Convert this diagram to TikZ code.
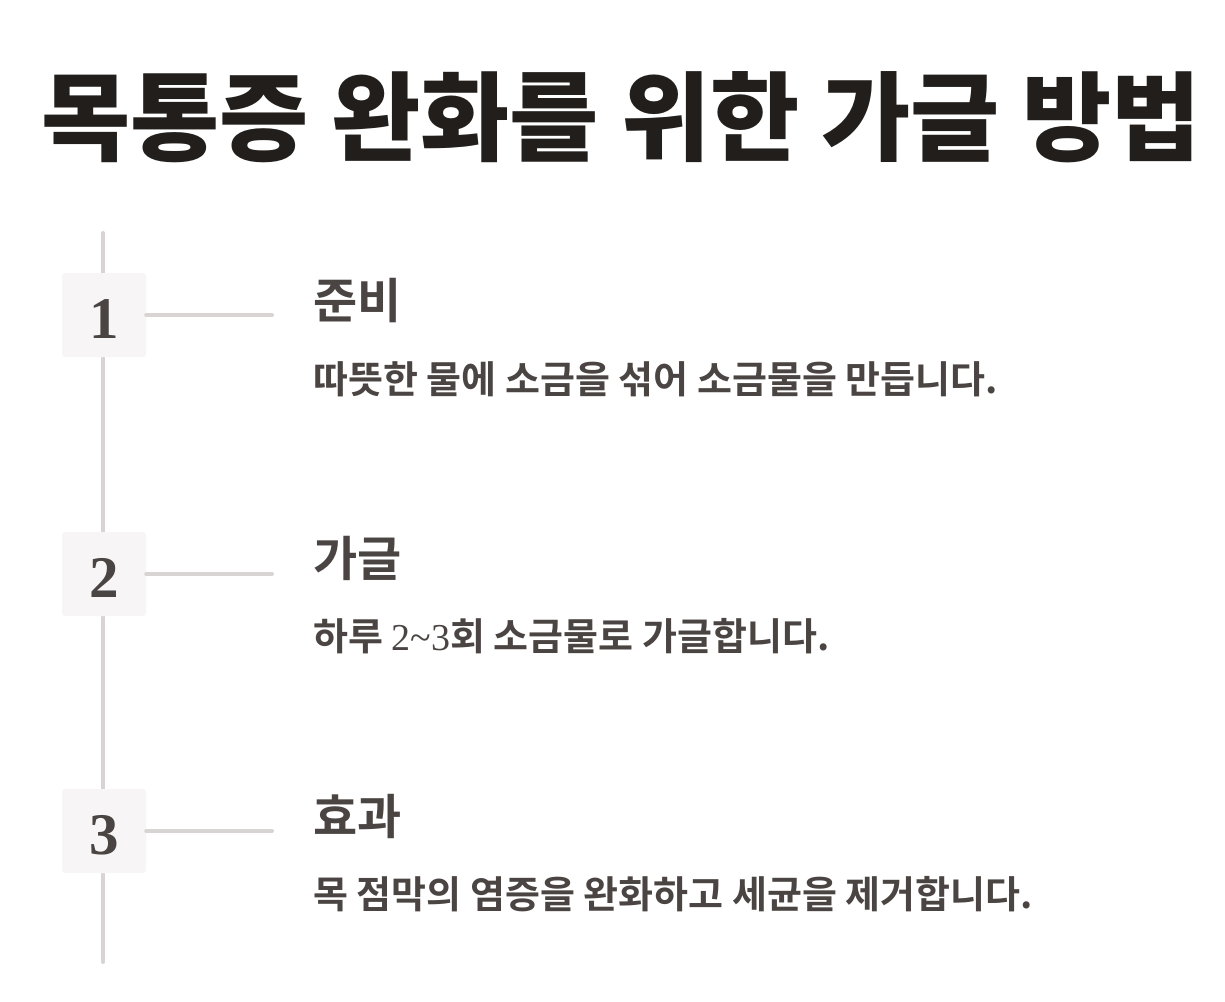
\documentclass[tikz,border=0pt]{standalone}
\usepackage{fontspec}
\setmainfont{Liberation Serif}
\newfontfamily\titlefont{Noto Sans CJK KR}[UprightFont=* Black]
\newfontfamily\kbold{Noto Sans CJK KR}[UprightFont=* Bold]
\newfontfamily\numfont{Liberation Serif}
\definecolor{titlecol}{HTML}{221E1B}
\definecolor{textcol}{HTML}{4A4542}
\definecolor{linecol}{HTML}{D8D4D4}
\definecolor{boxcol}{HTML}{F7F5F5}
\tikzset{
  spine/.style={draw=linecol, line width=4pt, line cap=round},
  numbox/.style={fill=boxcol, rounded corners=3pt, minimum width=84pt, minimum height=84pt, inner sep=0pt},
  numtext/.style={anchor=base, inner sep=0pt, text=textcol, font=\numfont\bfseries\fontsize{59}{59}\selectfont},
  heading/.style={anchor=base west, inner sep=0pt, text=textcol, font=\kbold\fontsize{48}{48}\selectfont},
  bodytext/.style={anchor=base west, inner sep=0pt, text=textcol, font=\kbold\fontsize{38}{38}\selectfont},
  titletext/.style={anchor=base, inner sep=0pt, text=titlecol, font=\titlefont\fontsize{97}{97}\selectfont}
}
\begin{document}
\begin{tikzpicture}[x=1pt,y=-1pt]
\useasboundingbox (0,0) rectangle (1225,1001);
\node[titletext] (title) at (621,153) {목통증 완화를 위한 가글 방법};
\coordinate (top) at (103,233);
\coordinate (bot) at (103,962);
\draw[spine] (top) -- (bot);
\node[numbox] (b1) at (104,315) {};
\node[numbox] (b2) at (104,574) {};
\node[numbox] (b3) at (104,831) {};
\node[numtext] (n1) at (104,338) {1};
\node[numtext] (n2) at (104,597) {2};
\node[numtext] (n3) at (104,854) {3};
\coordinate (e1) at (272,315);
\coordinate (e2) at (272,574);
\coordinate (e3) at (272,831);
\draw[spine] (b1.east) -- (e1);
\draw[spine] (b2.east) -- (e2);
\draw[spine] (b3.east) -- (e3);
\node[heading] (h1) at (313,318) {준비};
\node[bodytext] (t1) at (313,393) {따뜻한 물에 소금을 섞어 소금물을 만듭니다.};
\node[heading] (h2) at (313,576) {가글};
\node[bodytext] (t2) at (313,650) {하루 {\numfont 2\char`\~3}회 소금물로 가글합니다.};
\node[heading] (h3) at (313,834) {효과};
\node[bodytext] (t3) at (313,908) {목 점막의 염증을 완화하고 세균을 제거합니다.};
\end{tikzpicture}
\end{document}
